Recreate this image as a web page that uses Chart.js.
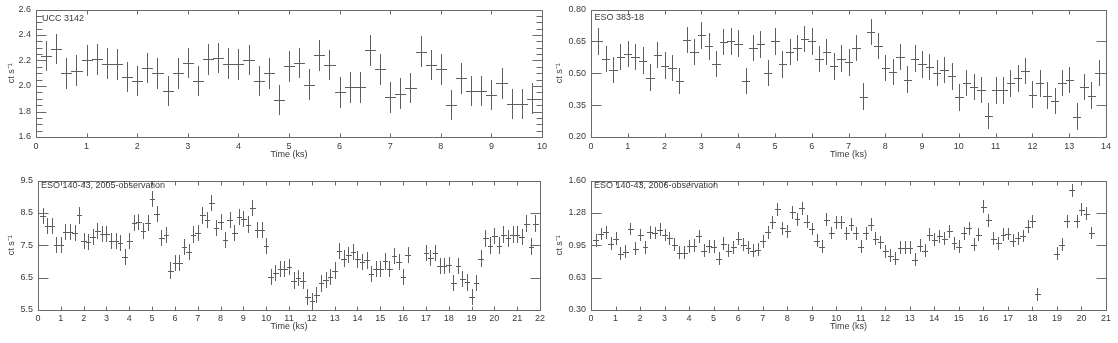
<!DOCTYPE html>
<html><head><meta charset="utf-8">
<script src="https://cdn.jsdelivr.net/npm/chart.js@4.4.1/dist/chart.umd.min.js"></script>
<style>
html,body{margin:0;padding:0;background:#fff;width:1118px;height:343px;overflow:hidden;}
.p{position:absolute;}
canvas{display:block;}
</style></head><body>
<div class="p" style="left:0;top:0;"><canvas id="c1" width="559" height="171"></canvas></div>
<div class="p" style="left:545px;top:0;"><canvas id="c2" width="573" height="171"></canvas></div>
<div class="p" style="left:0;top:171px;"><canvas id="c3" width="559" height="172"></canvas></div>
<div class="p" style="left:545px;top:171px;"><canvas id="c4" width="573" height="172"></canvas></div>
<script>
// ---------- DATA ----------
const names = ['UCC 3142', 'ESO 383-18', 'ESO 140-43, 2005-observation', 'ESO 140-43, 2006-observation'];
const xTitle = 'Time (ks)';
const yTitle = 'ct s\u207B\u00B9';

const times1 = [0.2,0.4,0.6,0.8,1.0,1.2,1.4,1.6,1.8,2.0,2.2,2.4,2.6,2.8,3.0,3.2,3.4,3.6,3.8,4.0,4.2,4.4,4.6,4.8,5.0,5.2,5.4,5.6,5.8,6.0,6.2,6.4,6.6,6.8,7.0,7.2,7.4,7.6,7.8,8.0,8.2,8.4,8.6,8.8,9.0,9.2,9.4,9.6,9.8];
const rates1 = [2.235,2.29,2.10,2.12,2.20,2.21,2.175,2.17,2.07,2.04,
                2.14,2.10,1.96,2.10,2.18,2.04,2.21,2.22,2.175,2.17,
                2.205,2.04,2.10,1.89,2.154,2.18,2.01,2.24,2.165,1.95,
                1.99,1.99,2.28,2.13,1.91,1.94,1.985,2.27,2.165,2.13,
                1.85,2.06,1.96,1.96,1.93,2.02,1.86,1.86,1.90];
const err1 = 0.12;
const xTicks1 = [0,1,2,3,4,5,6,7,8,9,10];
const yTicks1 = [1.6,1.8,2.0,2.2,2.4,2.6];
const yLabels1 = ['1.6','1.8','2.0','2.2','2.4','2.6'];

const times2 = [0.2,0.4,0.6,0.8,1.0,1.2,1.4,1.6,1.8,2.0,2.2,2.4,2.6,2.8,3.0,3.2,3.4,3.6,3.8,4.0,4.2,4.4,4.6,4.8,5.0,5.2,5.4,5.6,5.8,6.0,6.2,6.4,6.6,6.8,7.0,7.2,7.4,7.6,7.8,8.0,8.2,8.4,8.6,8.8,9.0,9.2,9.4,9.6,9.8,10.0,10.2,10.4,10.6,10.8,11.0,11.2,11.4,11.6,11.8,12.0,12.2,12.4,12.6,12.8,13.0,13.2,13.4,13.6,13.8];
const rates2 = [0.65,0.566,0.516,0.575,0.59,0.575,0.56,0.48,0.585,0.536,
                0.525,0.464,0.656,0.60,0.678,0.626,0.545,0.648,0.65,0.64,
                0.464,0.62,0.636,0.50,0.65,0.542,0.60,0.62,0.662,0.65,
                0.566,0.60,0.532,0.569,0.551,0.62,0.39,0.694,0.629,0.524,
                0.506,0.575,0.47,0.569,0.542,0.53,0.50,0.516,0.485,0.386,
                0.455,0.435,0.422,0.30,0.419,0.419,0.452,0.476,0.512,0.40,
                0.452,0.395,0.37,0.455,0.468,0.296,0.435,0.395,0.50];
const err2 = 0.062;
const xTicks2 = [0,1,2,3,4,5,6,7,8,9,10,11,12,13,14];
const yTicks2 = [0.20,0.35,0.50,0.65,0.80];
const yLabels2 = ['0.20','0.35','0.50','0.65','0.80'];

const times3 = [0.2,0.4,0.6,0.8,1.0,1.2,1.4,1.6,1.8,2.0,2.2,2.4,2.6,2.8,3.0,3.2,3.4,3.6,3.8,4.0,4.2,4.4,4.6,4.8,5.0,5.2,5.4,5.6,5.8,6.0,6.2,6.4,6.6,6.8,7.0,7.2,7.4,7.6,7.8,8.0,8.2,8.4,8.6,8.8,9.0,9.2,9.4,9.6,9.8,10.0,10.2,10.4,10.6,10.8,11.0,11.2,11.4,11.6,11.8,12.0,12.2,12.4,12.6,12.8,13.0,13.2,13.4,13.6,13.8,14.0,14.2,14.4,14.6,14.8,15.0,15.2,15.4,15.6,15.8,16.0,16.2,17.0,17.2,17.4,17.6,17.8,18.0,18.2,18.4,18.6,18.8,19.0,19.2,19.4,19.6,19.8,20.0,20.2,20.4,20.6,20.8,21.0,21.2,21.4,21.6,21.8];
const rates3 = [8.40,8.09,8.09,7.52,7.52,7.90,7.90,7.88,8.42,7.64,
                7.61,7.75,7.93,7.85,7.85,7.64,7.62,7.56,7.13,7.62,
                8.18,8.21,7.94,8.19,8.93,8.47,7.73,7.82,6.72,6.94,
                6.94,7.44,7.30,7.83,7.87,8.42,8.28,8.80,8.04,8.23,
                7.66,8.29,7.88,8.37,8.30,8.14,8.65,7.97,7.97,7.48,
                6.51,6.65,6.77,6.77,6.82,6.41,6.49,6.41,5.89,5.77,
                5.97,6.32,6.43,6.53,6.72,7.33,7.09,7.21,7.28,7.06,
                6.98,7.03,6.60,6.77,6.77,7.00,6.77,7.16,6.98,6.52,
                7.21,
                7.26,7.11,7.26,6.85,6.85,6.88,6.33,6.85,6.45,6.35,
                5.89,6.33,7.09,7.71,7.49,7.78,7.49,7.83,7.71,7.83,
                7.83,7.76,8.17,7.46,8.17];
const err3 = 0.25;
const xTicks3 = [0,1,2,3,4,5,6,7,8,9,10,11,12,13,14,15,16,17,18,19,20,21,22];
const yTicks3 = [5.5,6.5,7.5,8.5,9.5];
const yLabels3 = ['5.5','6.5','7.5','8.5','9.5'];

const times4 = [0.2,0.4,0.6,0.8,1.0,1.2,1.4,1.6,1.8,2.0,2.2,2.4,2.6,2.8,3.0,3.2,3.4,3.6,3.8,4.0,4.2,4.4,4.6,4.8,5.0,5.2,5.4,5.6,5.8,6.0,6.2,6.4,6.6,6.8,7.0,7.2,7.4,7.6,7.8,8.0,8.2,8.4,8.6,8.8,9.0,9.2,9.4,9.6,9.8,10.0,10.2,10.4,10.6,10.8,11.0,11.2,11.4,11.6,11.8,12.0,12.2,12.4,12.6,12.8,13.0,13.2,13.4,13.6,13.8,14.0,14.2,14.4,14.6,14.8,15.0,15.2,15.4,15.6,15.8,16.0,16.2,16.4,16.6,16.8,17.0,17.2,17.4,17.6,17.8,18.0,18.2,19.0,19.2,19.4,19.6,19.8,20.0,20.2,20.4];
const rates4 = [1.00,1.063,1.08,0.964,1.014,0.864,0.887,1.113,0.914,1.053,
                0.93,1.08,1.073,1.106,1.053,1.02,0.954,0.874,0.874,0.94,
                0.947,1.04,0.897,0.94,0.937,0.815,0.964,0.897,0.93,1.014,
                0.954,0.924,0.897,0.907,0.99,1.08,1.18,1.31,1.12,1.09,
                1.28,1.21,1.32,1.186,1.113,0.997,0.937,1.206,1.073,1.18,
                1.18,1.07,1.155,1.07,0.937,1.069,1.156,1.013,0.98,0.89,
                0.847,0.814,0.923,0.923,0.923,0.804,0.947,0.897,1.056,1.006,
                1.04,1.013,1.09,0.97,0.937,1.069,1.122,0.957,1.056,1.338,
                1.20,1.013,0.97,1.056,1.063,0.996,1.02,1.043,1.136,1.189,
                0.459,
                0.864,0.957,1.189,1.504,1.189,1.308,1.268,1.073];
const err4 = 0.065;
const xTicks4 = [0,1,2,3,4,5,6,7,8,9,10,11,12,13,14,15,16,17,18,19,20,21];
const yTicks4 = [0.300,0.625,0.950,1.275,1.600];
const yLabels4 = ['0.30','0.63','0.95','1.28','1.60'];

const binHalf = 0.1;

// ---------- RENDERING ----------
const FONT = '"Liberation Sans", Arial, sans-serif';
const TEXT = '#3a3a3a';
const LINE = '#5e5e5e';
Chart.defaults.font.family = FONT;
Chart.defaults.font.size = 9;
Chart.defaults.color = TEXT;

const errPlugin = {
  id: 'errbars',
  afterDatasetsDraw(chart, args, o) {
    const ctx = chart.ctx, xs = chart.scales.x, ys = chart.scales.y;
    ctx.save();
    ctx.strokeStyle = LINE; ctx.lineWidth = 1;
    ctx.beginPath();
    chart.data.datasets.forEach(ds => {
      ds.data.forEach(p => {
        const xc = Math.round(xs.getPixelForValue(p.x)) + 0.5;
        const x0 = Math.round(xs.getPixelForValue(p.x - o.half));
        const x1 = Math.round(xs.getPixelForValue(p.x + o.half));
        const yc = Math.round(ys.getPixelForValue(p.y)) + 0.5;
        const yt = Math.round(ys.getPixelForValue(p.y + o.err));
        const yb = Math.round(ys.getPixelForValue(p.y - o.err));
        ctx.moveTo(xc, yt); ctx.lineTo(xc, yb);
        ctx.moveTo(x0, yc); ctx.lineTo(x1 + 1, yc);
      });
    });
    ctx.stroke();
    ctx.restore();
  }
};

const framePlugin = {
  id: 'frame',
  afterDraw(chart, args, o) {
    const ctx = chart.ctx, a = chart.chartArea, xs = chart.scales.x, ys = chart.scales.y;
    const L = Math.round(a.left) + 0.5, R = Math.round(a.right) + 0.5;
    const T = Math.round(a.top) + 0.5, B = Math.round(a.bottom) + 0.5;
    ctx.save();
    ctx.strokeStyle = '#6a6a6a'; ctx.lineWidth = 1;
    ctx.strokeRect(L, T, R - L, B - T);
    ctx.beginPath();
    xs.ticks.forEach(t => {
      const x = Math.round(xs.getPixelForValue(t.value)) + 0.5;
      ctx.moveTo(x, B); ctx.lineTo(x, B - 4);
      ctx.moveTo(x, T); ctx.lineTo(x, T + 4);
    });
    ys.ticks.forEach(t => {
      const y = Math.round(ys.getPixelForValue(t.value)) + 0.5;
      ctx.moveTo(L, y); ctx.lineTo(L + 10, y);
      ctx.moveTo(R, y); ctx.lineTo(R - 10, y);
    });
    if (o.minor) {
      const n = Math.round((ys.max - ys.min) / o.minor);
      for (let i = 1; i < n; i++) {
        const y = Math.round(ys.getPixelForValue(ys.min + i * o.minor)) + 0.5;
        ctx.moveTo(L, y); ctx.lineTo(L + 6, y);
        ctx.moveTo(R, y); ctx.lineTo(R - 6, y);
      }
    }
    ctx.stroke();
    ctx.fillStyle = TEXT;
    ctx.font = '9px ' + FONT;
    ctx.textBaseline = 'middle';
    ctx.textAlign = 'left';
    ctx.fillText(o.text, a.left + o.dx, a.top + o.dy);
    ctx.restore();
  }
};

function makeChart(id, d, g) {
  const canvas = document.getElementById(id);
  const W = canvas.width, H = canvas.height;
  const pts = d.t.map((t, i) => ({x: t, y: d.r[i]}));
  const fit = {yw: g.left, xh: H - g.bottom};
  const chart = new Chart(canvas, {
    type: 'scatter',
    data: {datasets: [{data: pts, pointRadius: 0, pointHoverRadius: 0, showLine: false}]},
    options: {
      responsive: false, animation: false, devicePixelRatio: 1,
      events: [],
      layout: {padding: {left: 0, top: g.top, right: W - g.right, bottom: 0}},
      plugins: {
        legend: {display: false}, tooltip: {enabled: false},
        errbars: {err: d.err, half: binHalf},
        frame: {minor: g.minor, text: d.name, dx: g.dx, dy: g.dy}
      },
      scales: {
        x: {
          type: 'linear', min: d.xt[0], max: d.xt[d.xt.length - 1],
          afterBuildTicks: s => { s.ticks = d.xt.map(v => ({value: v})); },
          afterFit: s => { s.height = fit.xh; },
          grid: {display: false, drawTicks: false}, border: {display: false},
          ticks: {autoSkip: false, maxRotation: 0, padding: g.xlp, color: TEXT,
                  font: {size: 9, lineHeight: 1}, callback: v => String(v)},
          title: {display: true, text: xTitle, color: TEXT, font: {size: 9},
                  padding: {top: 0, bottom: g.xtp}}
        },
        y: {
          type: 'linear', min: d.yt[0], max: d.yt[d.yt.length - 1],
          afterBuildTicks: s => { s.ticks = d.yt.map(v => ({value: v})); },
          afterFit: s => { s.width = fit.yw; },
          grid: {display: false, drawTicks: false}, border: {display: false},
          ticks: {autoSkip: false, padding: 5, color: TEXT,
                  font: {size: 9, lineHeight: 1}, callback: (v, i) => d.yl[i]},
          title: {display: true, text: yTitle, color: TEXT, font: {size: 9},
                  padding: {top: g.ytp, bottom: 0}}
        }
      }
    },
    plugins: [errPlugin, framePlugin]
  });
  // make the plot area land exactly on the target box
  for (let k = 0; k < 3; k++) {
    const a = chart.chartArea;
    const dt = a.top - g.top, dr = a.right - g.right, dl = a.left - g.left, db = a.bottom - g.bottom;
    if (Math.abs(dt) + Math.abs(dr) + Math.abs(dl) + Math.abs(db) < 0.2) break;
    const pad = chart.options.layout.padding;
    pad.top -= dt; pad.right += dr; fit.yw -= dl; fit.xh += db;
    chart.update();
  }
  return chart;
}

// target plot boxes (canvas coordinates): left, right, top, bottom
makeChart('c1', {t: times1, r: rates1, err: err1, xt: xTicks1, yt: yTicks1, yl: yLabels1, name: names[0]},
          {left: 36, right: 542, top: 5.5, bottom: 137, xlp: 5, xtp: 10.6, ytp: 6.6, minor: 0.05, dx: 6, dy: 9.5});
makeChart('c2', {t: times2, r: rates2, err: err2, xt: xTicks2, yt: yTicks2, yl: yLabels2, name: names[1]},
          {left: 46, right: 561, top: 5.5, bottom: 137, xlp: 5, xtp: 10.6, ytp: 9.6, minor: null, dx: 3.5, dy: 8.5});
makeChart('c3', {t: times3, r: rates3, err: err3, xt: xTicks3, yt: yTicks3, yl: yLabels3, name: names[2]},
          {left: 38, right: 540, top: 9, bottom: 139, xlp: 4, xtp: 11.2, ytp: 6.3, minor: null, dx: 3, dy: 5.5});
makeChart('c4', {t: times4, r: rates4, err: err4, xt: xTicks4, yt: yTicks4, yl: yLabels4, name: names[3]},
          {left: 46, right: 561, top: 8, bottom: 139, xlp: 4, xtp: 11.2, ytp: 9.6, minor: null, dx: 3, dy: 5.5});
</script>
</body></html>
